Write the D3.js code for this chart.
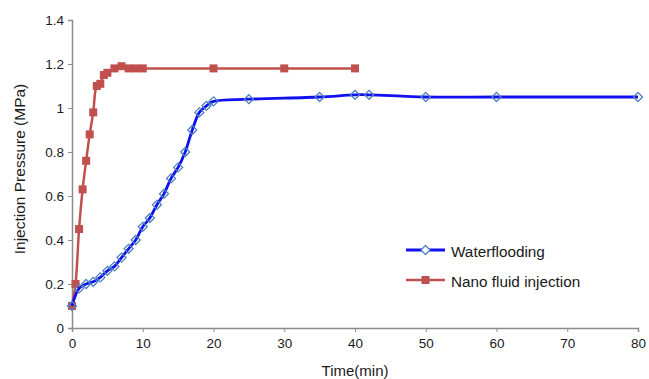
<!DOCTYPE html>
<html>
<head>
<meta charset="utf-8">
<script src="https://cdn.jsdelivr.net/npm/d3@7"></script>
<style>
  html, body { margin: 0; padding: 0; background: #fff; }
  svg { display: block; font-family: "Liberation Sans", Arial, Helvetica, sans-serif; }
</style>
</head>
<body>
<svg id="chart" width="649" height="379"></svg>
<script>
// Waterflooding run: time (min) and injection pressure (MPa)
const waterTime = [0, 1, 2, 3, 4, 5, 6, 7, 8, 9, 10, 11, 12, 13, 14, 15, 16, 17, 18, 19, 20, 25, 35, 40, 42, 50, 60, 80];
const waterPressure = [0.10, 0.18, 0.20, 0.21, 0.23, 0.26, 0.28, 0.32, 0.36, 0.40, 0.46, 0.50, 0.56, 0.61, 0.68, 0.73, 0.80, 0.90, 0.98, 1.01, 1.03, 1.04, 1.05, 1.06, 1.06, 1.05, 1.05, 1.05];

// Nano fluid injection run
const nanoTime = [0, 0.5, 1, 1.5, 2, 2.5, 3, 3.5, 4, 4.5, 5, 6, 7, 8, 9, 10, 20, 30, 40];
const nanoPressure = [0.10, 0.20, 0.45, 0.63, 0.76, 0.88, 0.98, 1.10, 1.11, 1.15, 1.16, 1.18, 1.19, 1.18, 1.18, 1.18, 1.18, 1.18, 1.18];

const xTicks = [0, 10, 20, 30, 40, 50, 60, 70, 80];
const yTicks = [0, 0.2, 0.4, 0.6, 0.8, 1, 1.2, 1.4];

const seriesNames = ["Waterflooding", "Nano fluid injection"];

const svg = d3.select("#chart");
const margin = { left: 72, right: 11, top: 20, bottom: 51 };
const W = 649, H = 379;

const x = d3.scaleLinear().domain([0, 80]).range([margin.left, W - margin.right]);
const y = d3.scaleLinear().domain([0, 1.4]).range([H - margin.bottom, margin.top]);

const axisColor = "#8c8c8c";
const textColor = "#1a1a1a";

// Axes
const xAxis = svg.append("g")
  .attr("transform", `translate(0,${y(0)})`)
  .call(d3.axisBottom(x).tickValues(xTicks).tickFormat(d3.format("d")).tickSizeOuter(0).tickSize(4).tickPadding(6));
const yAxis = svg.append("g")
  .attr("transform", `translate(${x(0)},0)`)
  .call(d3.axisLeft(y).tickValues(yTicks).tickFormat(d => d === 0 || d === 1 ? String(d) : d3.format(".1f")(d)).tickSizeOuter(0).tickSize(4).tickPadding(4));

[xAxis, yAxis].forEach(g => {
  g.selectAll("path.domain").attr("stroke", axisColor).attr("stroke-width", 1.5);
  g.selectAll(".tick line").attr("stroke", axisColor).attr("stroke-width", 1);
  g.selectAll(".tick text").attr("fill", textColor).style("font-size", "13.5px")
    .style("font-family", "'Liberation Sans', Arial, sans-serif");
});

// Axis titles
svg.append("text")
  .attr("x", (x(0) + x(80)) / 2)
  .attr("y", 376)
  .attr("text-anchor", "middle")
  .attr("fill", textColor)
  .style("font-size", "15px")
  .text("Time(min)");

svg.append("text")
  .attr("transform", `translate(25,169) rotate(-90)`)
  .attr("text-anchor", "middle")
  .attr("fill", textColor)
  .style("font-size", "15.5px")
  .text("Injection Pressure (MPa)");

const waterData = waterTime.map((t, i) => [t, waterPressure[i]]);
const nanoData = nanoTime.map((t, i) => [t, nanoPressure[i]]);

const waterColor = "#1010f0";
const waterMarker = "#4f81bd";
const nanoColor = "#c0504d";

// Nano fluid line and square markers
svg.append("path")
  .datum(nanoData)
  .attr("fill", "none")
  .attr("stroke", nanoColor)
  .attr("stroke-width", 2.5)
  .attr("d", d3.line().x(d => x(d[0])).y(d => y(d[1])).curve(d3.curveCatmullRom.alpha(0.5)));

svg.append("g").selectAll("rect")
  .data(nanoData)
  .join("rect")
  .attr("x", d => x(d[0]) - 4)
  .attr("y", d => y(d[1]) - 4)
  .attr("width", 8)
  .attr("height", 8)
  .attr("fill", nanoColor);

// Waterflooding line and diamond markers
svg.append("path")
  .datum(waterData)
  .attr("fill", "none")
  .attr("stroke", waterColor)
  .attr("stroke-width", 2.8)
  .attr("d", d3.line().x(d => x(d[0])).y(d => y(d[1])).curve(d3.curveCatmullRom.alpha(0.5)));

const diamond = "M0,-4.5L4.5,0L0,4.5L-4.5,0Z";
svg.append("g").selectAll("path")
  .data(waterData)
  .join("path")
  .attr("transform", d => `translate(${x(d[0])},${y(d[1])})`)
  .attr("d", diamond)
  .attr("fill", "none")
  .attr("stroke", waterMarker)
  .attr("stroke-width", 1.3);

// Legend
const legend = svg.append("g");
const legendRows = [
  { name: seriesNames[0], y: 250, type: "water" },
  { name: seriesNames[1], y: 280, type: "nano" }
];
legendRows.forEach(r => {
  const c = r.type === "water" ? waterColor : nanoColor;
  legend.append("line")
    .attr("x1", 406).attr("x2", 445)
    .attr("y1", r.y).attr("y2", r.y)
    .attr("stroke", c).attr("stroke-width", r.type === "water" ? 2.8 : 2.5);
  if (r.type === "water") {
    legend.append("path")
      .attr("transform", `translate(425.5,${r.y})`)
      .attr("d", diamond)
      .attr("fill", "#fff")
      .attr("stroke", waterMarker)
      .attr("stroke-width", 1.3);
  } else {
    legend.append("rect")
      .attr("x", 421.5).attr("y", r.y - 4)
      .attr("width", 8).attr("height", 8)
      .attr("fill", nanoColor);
  }
  legend.append("text")
    .attr("x", 451).attr("y", r.y + 6.5)
    .attr("fill", textColor)
    .style("font-size", "15.3px")
    .text(r.name);
});
</script>
</body>
</html>
